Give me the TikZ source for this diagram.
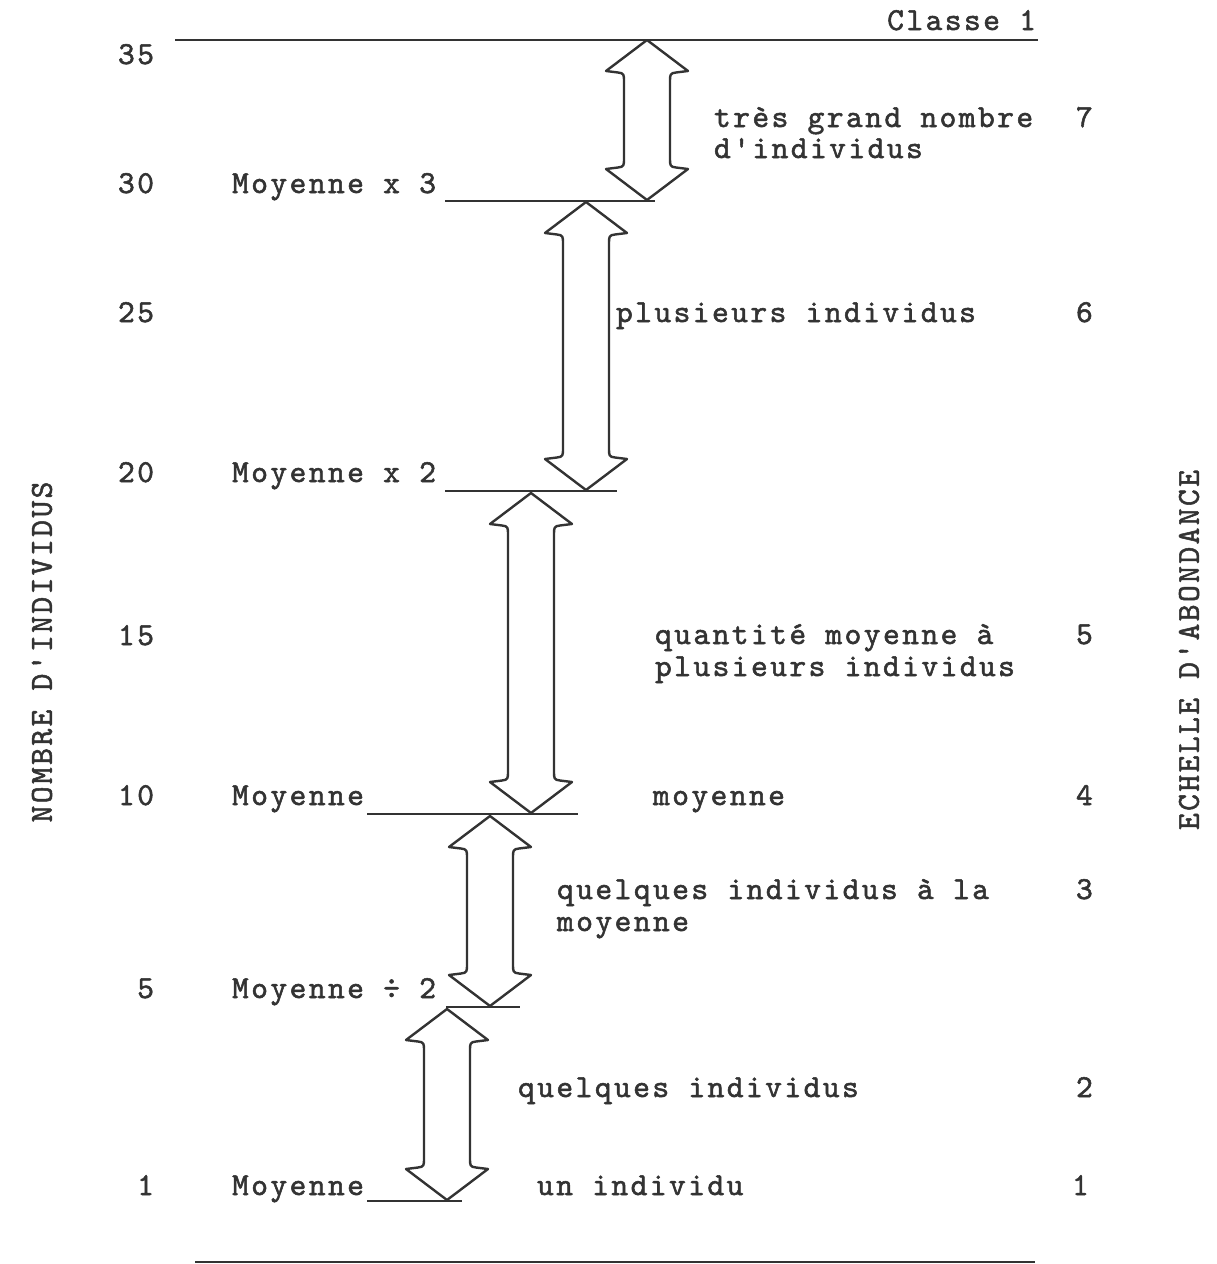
\documentclass[tikz,border=0pt]{standalone}
\usepackage{fontspec}
\setmonofont{lmmono10-regular.otf}[FakeBold=1.6,LetterSpace=7.5]
\definecolor{ink}{HTML}{333333}
\tikzset{
  txt/.style={inner sep=0pt, outer sep=0pt, font=\ttfamily\fontsize{32}{32}\selectfont, text=ink},
  hline/.style={draw=ink, line width=2.6pt},
  barrow/.style={draw=ink, line width=2.4pt, line join=round},
}
\newcommand\dblarrow[3]{%
 \draw[barrow] (#1,#2) -- ({#1+41},{#2+31}) -- ({#1+29},{#2+32.5})
   .. controls ({#1+23},{#2+33}) and ({#1+23},{#2+35}) .. ({#1+23},{#2+41})
   -- ({#1+23},{#3-41})
   .. controls ({#1+23},{#3-35}) and ({#1+23},{#3-33}) .. ({#1+29},{#3-32.5})
   -- ({#1+41},{#3-31}) -- (#1,#3) -- ({#1-41},{#3-31}) -- ({#1-29},{#3-32.5})
   .. controls ({#1-23},{#3-33}) and ({#1-23},{#3-35}) .. ({#1-23},{#3-41})
   -- ({#1-23},{#2+41})
   .. controls ({#1-23},{#2+35}) and ({#1-23},{#2+33}) .. ({#1-29},{#2+32.5})
   -- ({#1-41},{#2+31}) -- cycle;}
\begin{document}
\begin{tikzpicture}[x=1pt,y=-1pt]
\useasboundingbox (0,0) rectangle (1217,1264);

% horizontal levels
\coordinate (top1) at (175,40);   \coordinate (top2) at (1038,40);
\coordinate (a30) at (445,201);   \coordinate (b30) at (655,201);
\coordinate (a20) at (445,491);   \coordinate (b20) at (617,491);
\coordinate (a10) at (367,814);   \coordinate (b10) at (578,814);
\coordinate (a5)  at (446,1007);  \coordinate (b5)  at (520,1007);
\coordinate (a1)  at (367,1201);  \coordinate (b1)  at (462,1201);
\coordinate (bot1) at (195,1262); \coordinate (bot2) at (1035,1262);
\draw[hline] (top1) -- (top2);
\draw[hline] (a30) -- (b30);
\draw[hline] (a20) -- (b20);
\draw[hline] (a10) -- (b10);
\draw[hline] (a5) -- (b5);
\draw[hline] (a1) -- (b1);
\draw[hline] (bot1) -- (bot2);

% double block arrows
\dblarrow{647}{40}{200}
\dblarrow{586}{202}{490}
\dblarrow{531}{493}{813}
\dblarrow{490}{816}{1006}
\dblarrow{447}{1009}{1200}

% title
\node[txt, anchor=base east] (classe) at (1036,30) {Classe 1};

% left scale
\node[txt, anchor=base east] (n35) at (154,64) {35};
\node[txt, anchor=base east] (n30) at (154,193) {30};
\node[txt, anchor=base east] (n25) at (154,322) {25};
\node[txt, anchor=base east] (n20) at (154,482) {20};
\node[txt, anchor=base east] (n15) at (154,645) {15};
\node[txt, anchor=base east] (n10) at (154,805) {10};
\node[txt, anchor=base east] (n5)  at (154,998) {5};
\node[txt, anchor=base east] (n1)  at (154,1195) {1};

% level names
\node[txt, anchor=base west] (m30) at (232,193) {Moyenne x 3};
\node[txt, anchor=base west] (m20) at (232,482) {Moyenne x 2};
\node[txt, anchor=base west] (m10) at (232,805) {Moyenne};
\node[txt, anchor=base west] (m5)  at (232,998) {Moyenne ÷ 2};
\node[txt, anchor=base west] (m1)  at (232,1195) {Moyenne};

% descriptions
\node[txt, anchor=base west] (d7a) at (714,127) {très grand nombre};
\node[txt, anchor=base west] (d7b) at (714,158) {d'individus};
\node[txt, anchor=base west] (d6)  at (616,322) {plusieurs individus};
\node[txt, anchor=base west] (d5a) at (655,644) {quantité moyenne à};
\node[txt, anchor=base west] (d5b) at (655,676) {plusieurs individus};
\node[txt, anchor=base west] (d4)  at (653,805) {moyenne};
\node[txt, anchor=base west] (d3a) at (557,899) {quelques individus à la};
\node[txt, anchor=base west] (d3b) at (557,931) {moyenne};
\node[txt, anchor=base west] (d2)  at (518,1097) {quelques individus};
\node[txt, anchor=base west] (d1)  at (537,1195) {un individu};

% abundance scale
\node[txt, anchor=base west] (s7) at (1076,127) {7};
\node[txt, anchor=base west] (s6) at (1076,322) {6};
\node[txt, anchor=base west] (s5) at (1076,644) {5};
\node[txt, anchor=base west] (s4) at (1076,805) {4};
\node[txt, anchor=base west] (s3) at (1076,899) {3};
\node[txt, anchor=base west] (s2) at (1076,1097) {2};
\node[txt, anchor=base west] (s1) at (1072,1195) {1};

% axis titles
\node[txt, rotate=90] (ylab) at (42,652) {NOMBRE D'INDIVIDUS};
\node[txt, rotate=90] (rlab) at (1189,650) {ECHELLE D'ABONDANCE};
\end{tikzpicture}
\end{document}
